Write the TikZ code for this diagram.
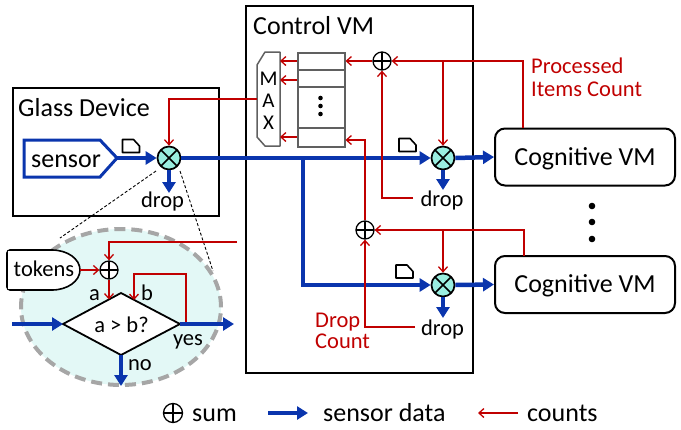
\documentclass[tikz,border=0pt]{standalone}
\usepackage{fontspec}
\setmainfont{Carlito}
\usetikzlibrary{arrows.meta,shapes.geometric,calc}
\definecolor{dblue}{HTML}{0A35AD}
\definecolor{dred}{HTML}{C00000}
\definecolor{xcyan}{HTML}{9AEEE0}
\definecolor{ecyan}{HTML}{E3F8F6}
\definecolor{egray}{HTML}{A6A6A6}
\definecolor{tgray}{HTML}{606060}
\begin{document}
\begin{tikzpicture}[x=1pt,y=-1pt,
  big/.style={font=\fontsize{26}{30}\selectfont},
  small/.style={font=\fontsize{22.5}{24}\selectfont},
  data/.style={draw=dblue,line width=4.5pt,-{Triangle[length=11pt,width=13pt]}},
  count/.style={draw=dred,line width=1.3pt,-{Straight Barb[length=5pt,width=9pt]}},
  box/.style={draw=black,line width=2pt,inner sep=0pt},
  cvm/.style={draw=black,line width=2pt,rounded corners=10pt,minimum width=180pt,minimum height=57pt,big,text height=16pt,text depth=0pt},
  xor/.style={circle,draw=black,line width=1.7pt,fill=xcyan,minimum size=23pt,inner sep=0pt,
    path picture={\draw[line width=1.7pt] (path picture bounding box.north west) -- (path picture bounding box.south east)
      (path picture bounding box.south west) -- (path picture bounding box.north east);}},
  sumc/.style={circle,draw=black,line width=1.3pt,fill=white,minimum size=18pt,inner sep=0pt,
    path picture={\draw[line width=1.3pt] (path picture bounding box.north) -- (path picture bounding box.south)
      (path picture bounding box.west) -- (path picture bounding box.east);}},
  zoomline/.style={draw=black,line width=0.9pt,dash pattern=on 3pt off 2pt},
  docicon/.pic={\draw[line width=1.6pt,fill=white,line join=round] (-8.5,-6.5) -- (2.5,-6.5) -- (8.5,0) -- (8.5,6.5) -- (-8.5,6.5) -- cycle;}
]
\useasboundingbox (0,0) rectangle (681,429);

% ---------- boxes ----------
\node[box,minimum width=206pt,minimum height=128pt,anchor=north west] (glass) at (12,87) {};
\node[big,anchor=base west,inner sep=0pt] (glasst) at (18,116.7) {Glass Device};
\node[box,minimum width=227pt,minimum height=367pt,anchor=north west] (control) at (245,5) {};
\node[big,anchor=base west,inner sep=0pt] (controlt) at (253,34) {Control VM};
\node[cvm] (cvm1) at (585,157) {Cognitive VM};
\node[cvm] (cvm2) at (585,284.5) {Cognitive VM};
\foreach \yy in {206,222,239} \fill (592,\yy) circle (3.3pt);

% ---------- glass device ----------
\draw[draw=dblue,line width=3pt,line join=miter] (24,140) -- (100,140) -- (117,158) -- (100,177) -- (24,177) -- cycle;
\coordinate (sensortip) at (117,158);
\node[big,anchor=base,inner sep=0pt] (sensort) at (66,167) {sensor};
\node[xor] (g) at (169,158) {};
\pic at (131,146) {docicon};
\draw[data] (sensortip) -- (g.west);
\coordinate (gd) at (169,193);
\draw[data] (g.south) -- (gd);
\node[small,anchor=base,inner sep=0pt] (gdrop) at (162.5,207) {drop};

% ---------- zoom ellipse ----------
\draw[zoomline] (156,171) -- (60,238);
\draw[zoomline] (180,171) -- (213,271);
\node[ellipse,draw=egray,fill=ecyan,line width=4pt,dash pattern=on 11pt off 6pt,minimum width=200pt,minimum height=156pt] (ell) at (121,307) {};
\draw[draw=black,line width=1.6pt,fill=white,rounded corners=3pt] (52,250) -- (7,250) -- (7,290) -- (52,290);
\fill[white] (52,250) arc[start angle=-90,end angle=90,x radius=28,y radius=20] -- cycle;
\draw[draw=black,line width=1.6pt] (52,250) arc[start angle=-90,end angle=90,x radius=28,y radius=20];
\fill[white] (8,251) rectangle (53,289);
\node[small,anchor=base,inner sep=0pt] (tokens) at (44,276) {tokens};
\coordinate (tokR) at (80,270);
\node[sumc] (st) at (109,270) {};
\coordinate (dL) at (63,324);
\coordinate (dT) at (121,293);
\coordinate (dR) at (180,324);
\coordinate (dB) at (121,355);
\draw[draw=black,line width=1.8pt,fill=white,line join=miter] (dL) -- (dT) -- (dR) -- (dB) -- cycle;
\node[small,anchor=base,inner sep=0pt] (cmp) at (121.5,332) {a > b?};
\coordinate (tokin) at (237,242);
\draw[count] (tokin) -| (st.north);
\draw[count] (tokR) -- (st.west);
\coordinate (aIn) at (109,299.5);
\draw[count] (st.south) -- (aIn);
\coordinate (bS) at (186,324);
\coordinate (bIn) at (134,300);
\draw[count] (bS) -- (bS |- 0,274) -| (bIn);
\coordinate (inL) at (12,324);
\coordinate (outR) at (234,324);
\coordinate (outB) at (121,386);
\draw[data] (inL) -- (dL);
\draw[data] (dR) -- (outR);
\draw[data] (dB) -- (outB);
\node[small,anchor=base,inner sep=0pt] (la) at (94.5,300) {a};
\node[small,anchor=base,inner sep=0pt] (lb) at (147,300) {b};
\node[small,anchor=base,inner sep=0pt] (lyes) at (188,345) {yes};
\node[small,anchor=base,inner sep=0pt] (lno) at (140,370) {no};

% ---------- control VM ----------
\draw[draw=tgray,line width=1.5pt,line join=round] (265,52) -- (280,52) -- (280,146) -- (265,146) -- (257,137) -- (257,65) -- cycle;
\coordinate (maxW) at (257,99);
\coordinate (maxE) at (280,99);
\node[font=\fontsize{21}{22}\selectfont,align=center,inner sep=0pt] (maxt) at (268.5,100.5) {M\\A\\X};
\node[draw=tgray,line width=1.5pt,minimum width=47pt,minimum height=94pt,anchor=north west,inner sep=0pt] (tbl) at (297,52) {};
\draw[draw=tgray,line width=1.5pt] (297,70) -- (344,70) (297,87) -- (344,87) (297,128) -- (344,128);
\foreach \yy in {98,106,114} \fill (320.5,\yy) circle (2.3pt);
\foreach \yy in {61,80,137} \draw[count] (tbl.west |- 0,\yy) -- (maxE |- 0,\yy);
\draw[count] (maxW) -| (g.north);

\node[xor] (c1) at (443,158) {};
\node[xor] (c2) at (443,285) {};
\node[sumc] (s1) at (382,61) {};
\node[sumc] (s2) at (365,230) {};
\pic at (407.5,145) {docicon};
\pic at (404.5,271.5) {docicon};
\draw[data] (g.east) -- (c1.west);
\coordinate (br) at (303,158);
\draw[data,line join=miter] (br) |- (c2.west);
\draw[data] (c1.east) -- (cvm1.west);
\draw[data] (c2.east) -- (cvm2.west);
\coordinate (c1d) at (443,190);
\coordinate (c2d) at (443,318);
\draw[data] (c1.south) -- (c1d);
\draw[data] (c2.south) -- (c2d);
\node[small,anchor=base,inner sep=0pt] (drop1) at (442,206.5) {drop};
\node[small,anchor=base,inner sep=0pt] (drop2) at (442.5,335) {drop};

\coordinate (pc1) at (523,128);
\coordinate (pc2) at (524,256);
\draw[count] (pc1) |- (s1.east);
\draw[count] (c1.north |- s1) -- (c1.north);
\draw[count] (s1.west) -- (tbl.east |- s1);
\coordinate (d1) at (413,198);
\draw[count] (d1) -| (s1.south);
\draw[count] (pc2) |- (s2.east);
\draw[count] (c2.north |- s2) -- (c2.north);
\draw[count] (s2.north) |- (tbl.east |- 0,140);
\coordinate (d2) at (415,327);
\draw[count] (d2) -| (s2.south);

\node[dred,font=\fontsize{22.5}{23}\selectfont,align=left,anchor=west,inner sep=0pt] (proc) at (531,77) {Processed\\Items Count};
\node[dred,font=\fontsize{22.5}{21.5}\selectfont,align=left,anchor=west,inner sep=0pt] (dropc) at (315,331) {Drop\\Count};

% ---------- legend ----------
\node[sumc,minimum size=19pt] (lsum) at (173,413) {};
\node[big,anchor=base west,inner sep=0pt] (lsumt) at (192,421) {sum};
\coordinate (lb1) at (268,413);
\coordinate (lb2) at (308,413);
\draw[data] (lb1) -- (lb2);
\node[big,anchor=base west,inner sep=0pt] (ldata) at (323,421) {sensor data};
\coordinate (lr1) at (518,413);
\coordinate (lr2) at (478,413);
\draw[count] (lr1) -- (lr2);
\node[big,anchor=base west,inner sep=0pt] (lcount) at (527,421) {counts};
\end{tikzpicture}
\end{document}
